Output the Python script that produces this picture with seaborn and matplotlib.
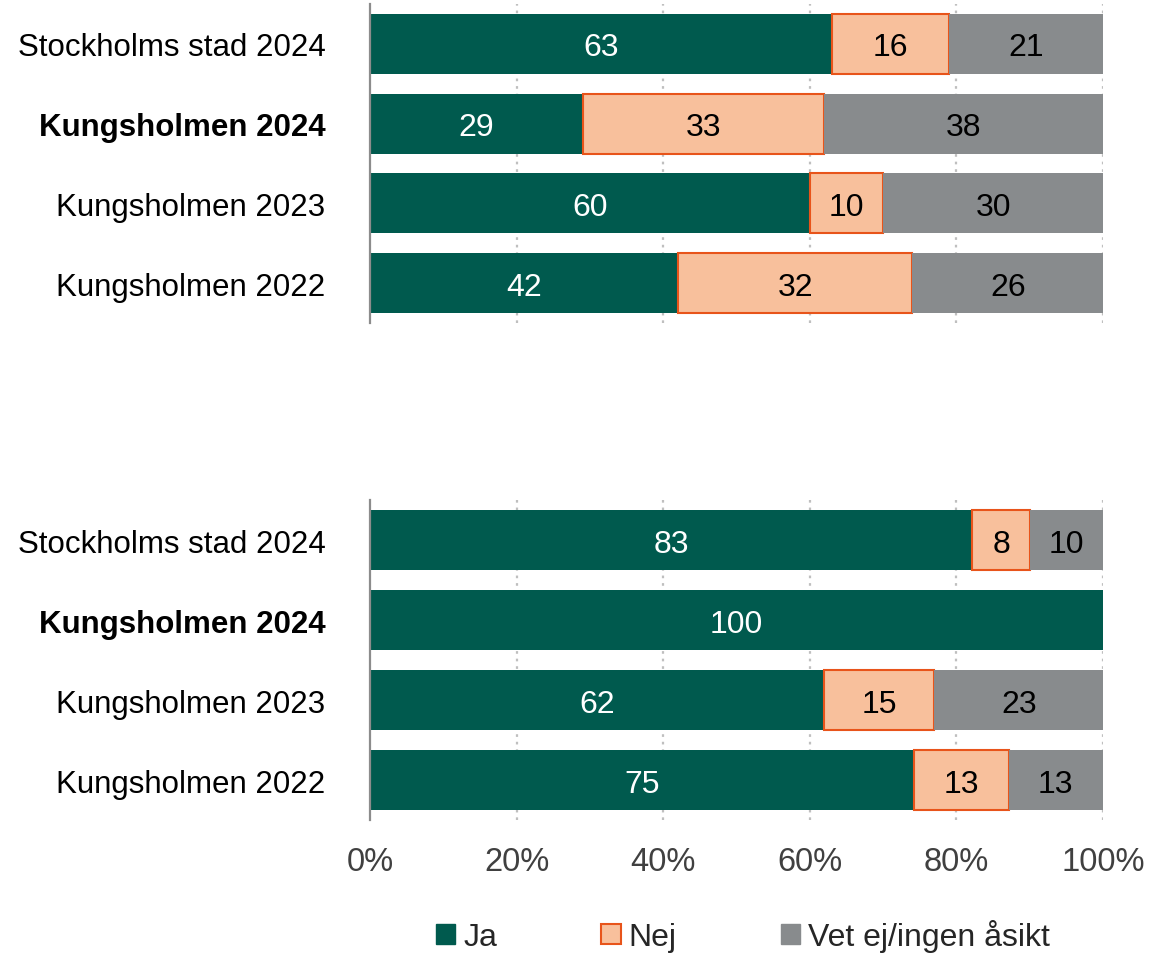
import matplotlib
matplotlib.use("Agg")
import matplotlib.pyplot as plt
import seaborn as sns
import numpy as np
import pandas as pd
from matplotlib.patches import Patch

sns.set_theme(style="white")
plt.rcParams['font.family'] = ['Liberation Sans', 'DejaVu Sans']

categories = ["Stockholms stad 2024", "Kungsholmen 2024", "Kungsholmen 2023", "Kungsholmen 2022"]
series = ["Ja", "Nej", "Vet ej/ingen åsikt"]

top_ja = [63, 29, 60, 42]
top_nej = [16, 33, 10, 32]
top_vet = [21, 38, 30, 26]

bot_ja = [83, 100, 62, 75]
bot_nej = [8, 0, 15, 13]
bot_vet = [10, 0, 23, 13]

xticks = [0, 20, 40, 60, 80, 100]
xtick_labels = ["0%", "20%", "40%", "60%", "80%", "100%"]

C_JA = "#005A4E"
C_NEJ = "#F8C09C"
C_NEJ_EDGE = "#E8541A"
C_VET = "#888B8D"
FS = 23

fig = plt.figure(figsize=(11.58, 9.54), dpi=100)
ax_top = fig.add_axes([0.3195, 0.6604, 0.633, 0.3344])
ax_bot = fig.add_axes([0.3195, 0.1394, 0.633, 0.3354])


def draw(ax, ja, nej, vet, show_x):
    ja = np.array(ja, float)
    nej = np.array(nej, float)
    vet = np.array(vet, float)
    tot = ja + nej + vet
    pj, pn, pv = ja / tot * 100, nej / tot * 100, vet / tot * 100
    df = pd.DataFrame({"cat": categories, "ja": pj, "nej": pn, "vet": pv})
    for x in xticks[1:]:
        ax.axvline(x, color="#BFBFBF", lw=1.6, ls=(0, (1.2, 2.2)), zorder=0)
    sns.barplot(data=df, y="cat", x="ja", order=categories, color=C_JA, orient="h",
                width=0.75, ax=ax, saturation=1, linewidth=0, zorder=2)
    sns.barplot(data=df, y="cat", x="nej", order=categories, color=C_NEJ, orient="h",
                width=0.75, ax=ax, saturation=1, left=df["ja"].to_numpy(),
                edgecolor=C_NEJ_EDGE, linewidth=1.5, zorder=2)
    sns.barplot(data=df, y="cat", x="vet", order=categories, color=C_VET, orient="h",
                width=0.75, ax=ax, saturation=1, left=(df["ja"] + df["nej"]).to_numpy(),
                linewidth=0, zorder=2)
    for p in ax.patches:
        if p.get_width() <= 0:
            p.set_visible(False)
    for i in range(len(categories)):
        segs = [(0, pj[i], ja[i], "white"),
                (pj[i], pn[i], nej[i], "black"),
                (pj[i] + pn[i], pv[i], vet[i], "black")]
        for left, w, v, col in segs:
            if v > 0:
                ax.text(left + w / 2, i, f"{int(v)}", ha="center", va="center_baseline",
                        color=col, fontsize=FS, zorder=3)
    ax.set_xlim(0, 100)
    ax.set_ylim(3.5, -0.5)
    ax.set_xlabel("")
    ax.set_ylabel("")
    for s in ["top", "right", "bottom"]:
        ax.spines[s].set_visible(False)
    ax.spines["left"].set_color("#8C8C8C")
    ax.spines["left"].set_linewidth(1.6)
    ax.spines["left"].set_zorder(4)
    ax.tick_params(axis="y", length=0, pad=32, labelsize=FS - 0.5, labelcolor="black")
    for lab in ax.get_yticklabels():
        if lab.get_text() == "Kungsholmen 2024":
            lab.set_fontweight("bold")
    ax.set_xticks(xticks)
    if show_x:
        ax.set_xticklabels(xtick_labels)
        ax.tick_params(axis="x", length=0, pad=19, labelsize=FS + 0.5, labelcolor="#404040")
    else:
        ax.tick_params(axis="x", length=0, labelbottom=False)
    ax.grid(False)


draw(ax_top, top_ja, top_nej, top_vet, False)
draw(ax_bot, bot_ja, bot_nej, bot_vet, True)

handles = [Patch(facecolor=C_JA, edgecolor=C_JA),
           Patch(facecolor=C_NEJ, edgecolor=C_NEJ_EDGE, linewidth=1.5),
           Patch(facecolor=C_VET, edgecolor=C_VET)]
fig.legend(handles, series, loc="center", bbox_to_anchor=(0.6416, 0.018), ncol=3,
           frameon=False, fontsize=FS, handlelength=0.6, handleheight=0.6,
           handletextpad=0.25, columnspacing=3.27)

fig.savefig("out.png", dpi=100)
